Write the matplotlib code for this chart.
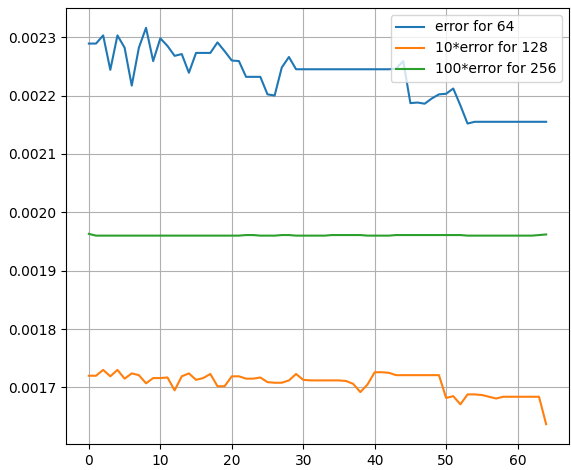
import matplotlib
matplotlib.use("Agg")
import matplotlib.pyplot as plt

# error curves, 65 points each (x = 0..64)
err_64 = [0.002289, 0.002289, 0.002303, 0.002244, 0.002303, 0.002282, 0.002217, 0.002282,
          0.002316, 0.002259, 0.002298, 0.002285, 0.002268, 0.002271, 0.002239, 0.002273,
          0.002273, 0.002273, 0.002291, 0.002276, 0.002260, 0.002259, 0.002232, 0.002232,
          0.002232, 0.002202, 0.002200, 0.002248, 0.002266, 0.002245, 0.002245, 0.002245,
          0.002245, 0.002245, 0.002245, 0.002245, 0.002245, 0.002245, 0.002245, 0.002245,
          0.002245, 0.002245, 0.002245, 0.002246, 0.002259, 0.002187, 0.002188, 0.002186,
          0.002195, 0.002202, 0.002203, 0.002212, 0.002183, 0.002152, 0.002155, 0.002155,
          0.002155, 0.002155, 0.002155, 0.002155, 0.002155, 0.002155, 0.002155, 0.002155,
          0.002155]

err_128x10 = [0.001720, 0.001720, 0.001730, 0.001719, 0.001730, 0.001715, 0.001724, 0.001721,
              0.001707, 0.001716, 0.001716, 0.001717, 0.001695, 0.001719, 0.001724, 0.001713,
              0.001716, 0.001723, 0.001702, 0.001702, 0.001719, 0.001719, 0.001715, 0.001715,
              0.001717, 0.001709, 0.001708, 0.001708, 0.001712, 0.001723, 0.001713, 0.001712,
              0.001712, 0.001712, 0.001712, 0.001712, 0.001711, 0.001706, 0.001692, 0.001705,
              0.001726, 0.001726, 0.001725, 0.001721, 0.001721, 0.001721, 0.001721, 0.001721,
              0.001721, 0.001721, 0.001682, 0.001685, 0.001671, 0.001688, 0.001688, 0.001687,
              0.001684, 0.001681, 0.001684, 0.001684, 0.001684, 0.001684, 0.001684, 0.001684,
              0.001637]

err_256x100 = [0.001963, 0.001960, 0.001960, 0.001960, 0.001960, 0.001960, 0.001960, 0.001960,
               0.001960, 0.001960, 0.001960, 0.001960, 0.001960, 0.001960, 0.001960, 0.001960,
               0.001960, 0.001960, 0.001960, 0.001960, 0.001960, 0.001960, 0.001961, 0.001961,
               0.001960, 0.001960, 0.001960, 0.001961, 0.001961, 0.001960, 0.001960, 0.001960,
               0.001960, 0.001960, 0.001961, 0.001961, 0.001961, 0.001961, 0.001961, 0.001960,
               0.001960, 0.001960, 0.001960, 0.001961, 0.001961, 0.001961, 0.001961, 0.001961,
               0.001961, 0.001961, 0.001961, 0.001961, 0.001961, 0.001960, 0.001960, 0.001960,
               0.001960, 0.001960, 0.001960, 0.001960, 0.001960, 0.001960, 0.001960, 0.001961,
               0.001962]

x = list(range(len(err_64)))

fig = plt.figure(figsize=(5.71, 4.70), dpi=100)
plt.subplots_adjust(left=0.1156, right=0.9965, top=0.983, bottom=0.0553)

plt.plot(x, err_64, label="error for 64")
plt.plot(x, err_128x10, label="10*error for 128")
plt.plot(x, err_256x100, label="100*error for 256")
plt.grid()
plt.legend(loc="upper right")

plt.savefig("out.png", dpi=100)
